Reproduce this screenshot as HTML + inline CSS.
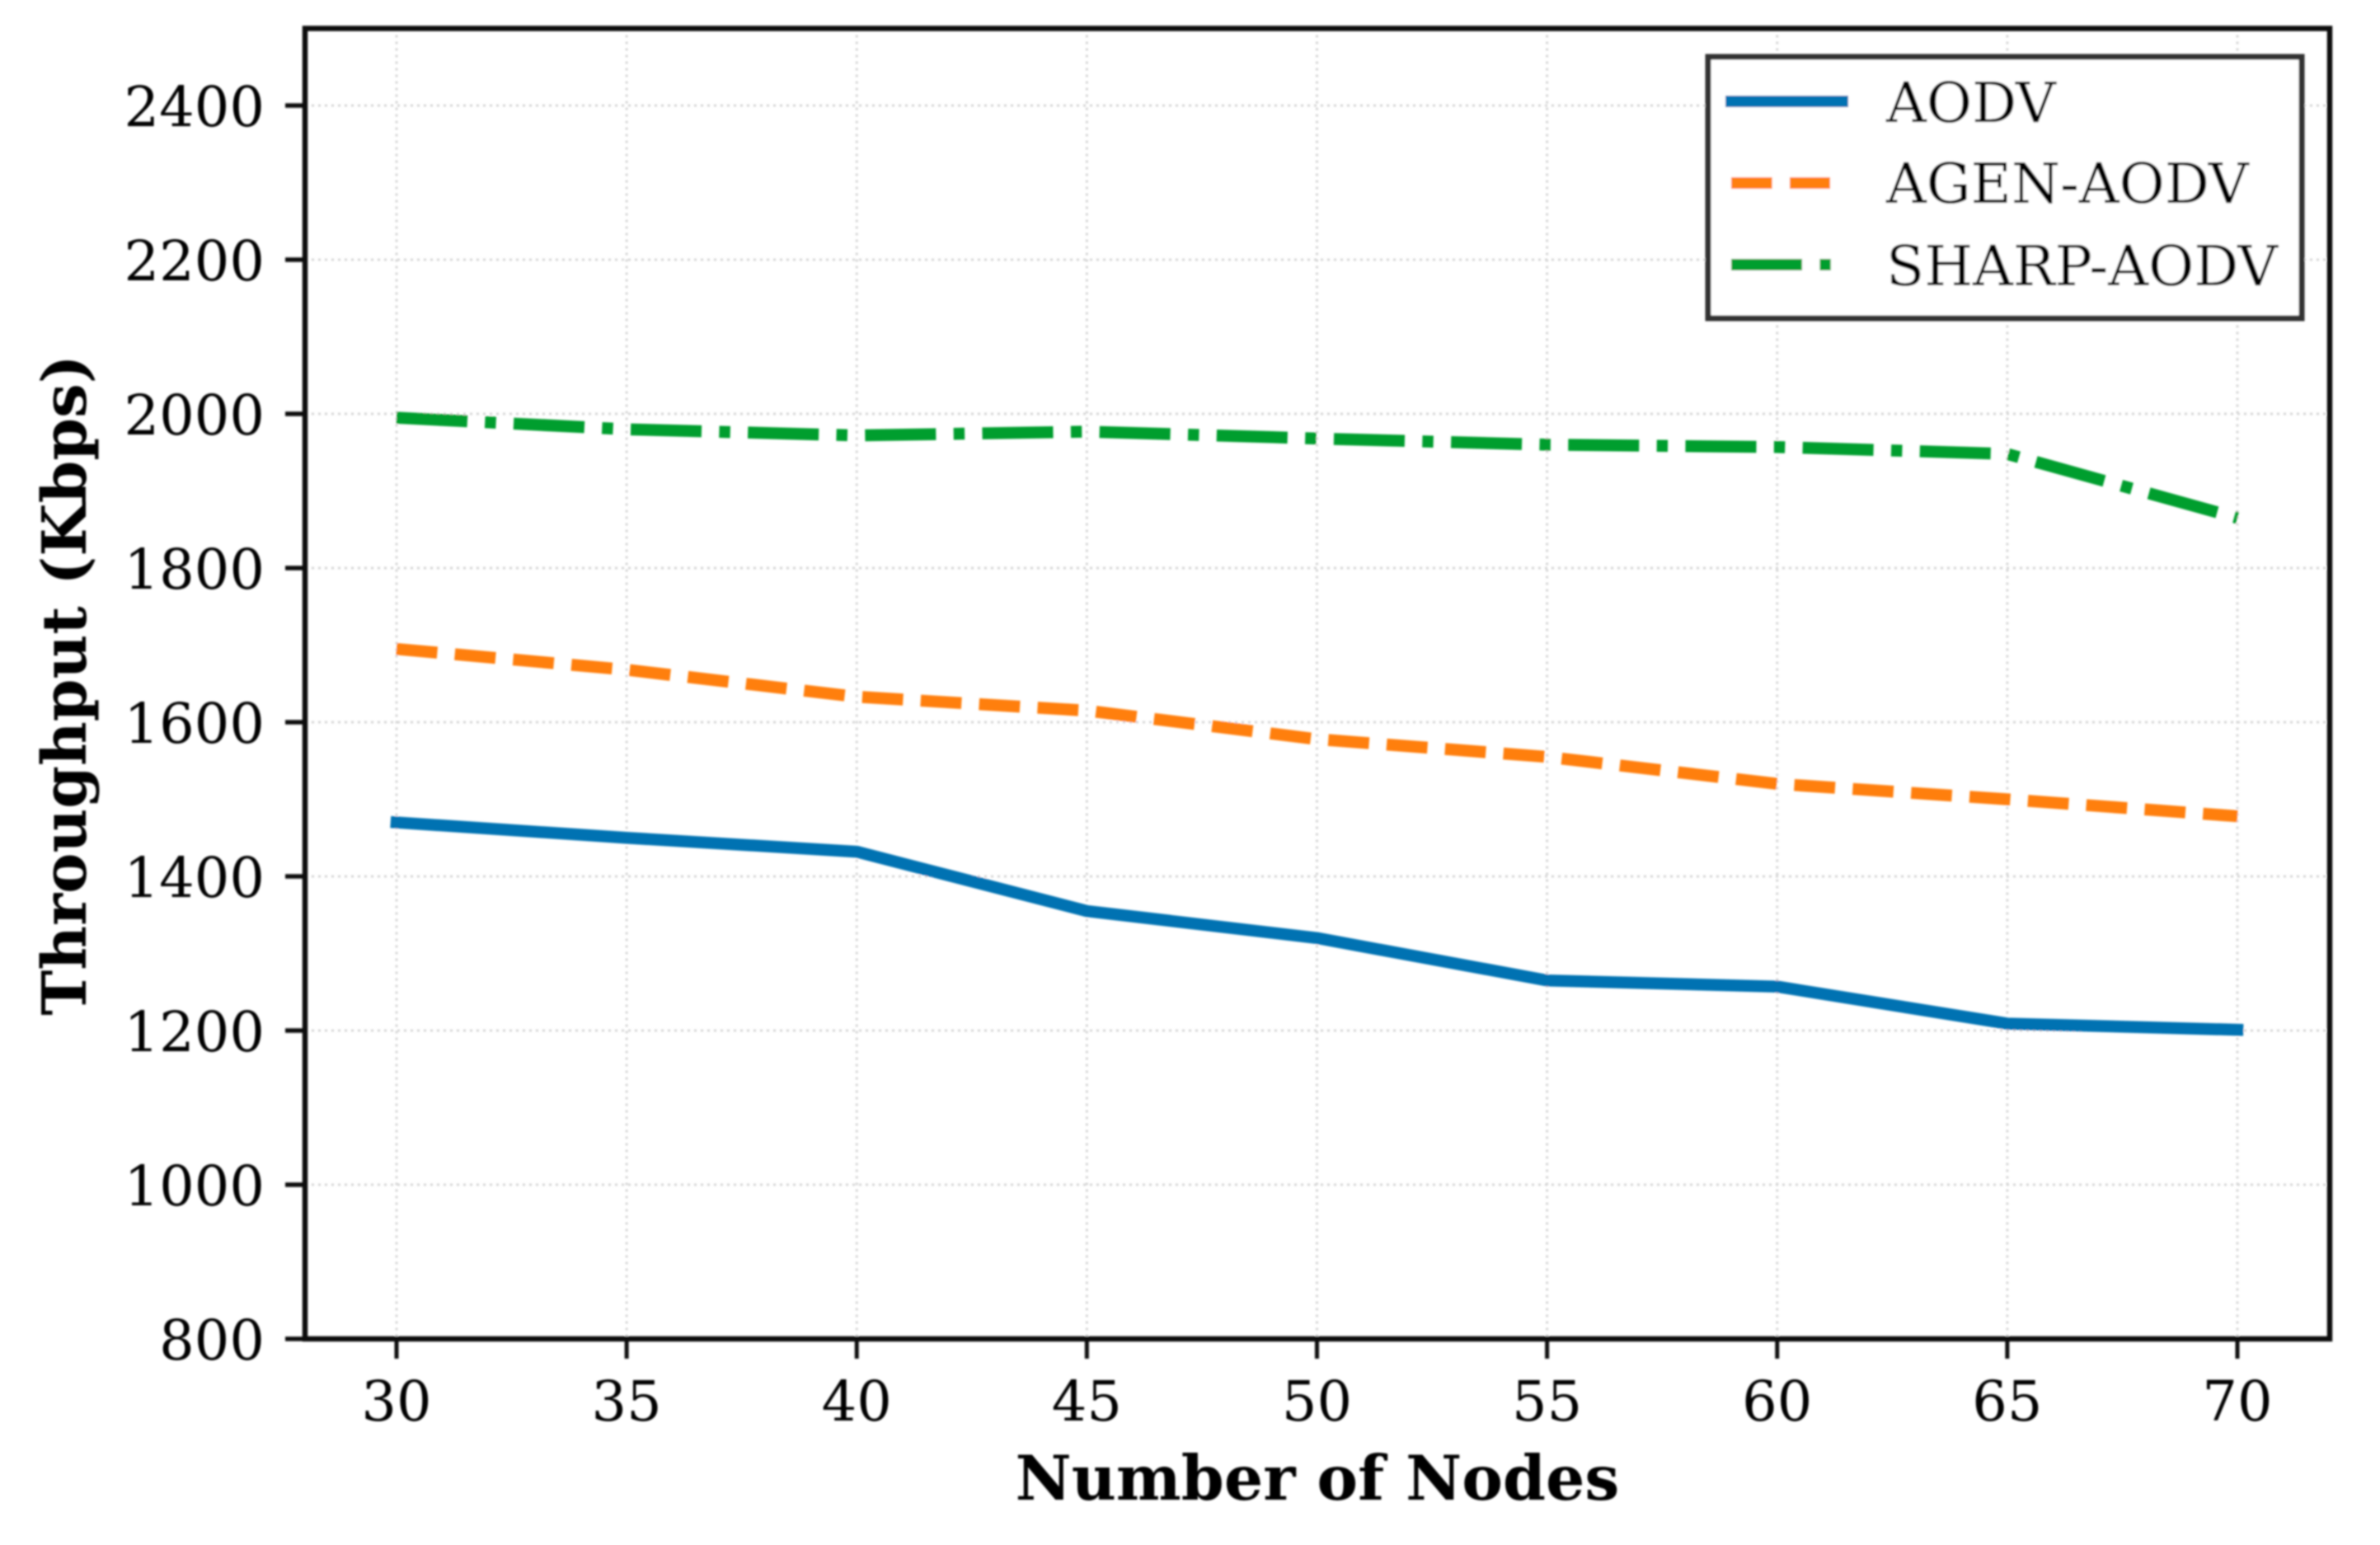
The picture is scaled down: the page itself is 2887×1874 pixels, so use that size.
<!DOCTYPE html>
<html lang="en">
<head>
<meta charset="utf-8">
<title>Throughput vs Number of Nodes</title>
<style>
  html, body { margin: 0; padding: 0; background: #fff; }
  body { width: 2887px; height: 1874px; overflow: hidden; }
  svg { display: block; }
  text { font-family: "DejaVu Serif", "Liberation Serif", serif; fill: #000; }
</style>
</head>
<body>
<svg id="chart" xmlns="http://www.w3.org/2000/svg" width="2887" height="1874" viewBox="0 0 2887 1874">
  <defs>
    <filter id="soft" x="-2%" y="-2%" width="104%" height="104%">
      <feGaussianBlur stdDeviation="1.1"/>
    </filter>
  </defs>
  <rect x="0" y="0" width="2887" height="1874" fill="#fff"/>
  <g filter="url(#soft)">
    <g id="grid"></g>
    <g id="series"></g>
    <g id="ticks"></g>
    <g id="tick-labels"></g>
    <rect x="370" y="34.5" width="2456" height="1589.5" fill="none" stroke="#111" stroke-width="6.5"/>
    <text x="1598" y="1819" font-size="74.5" font-weight="700" text-anchor="middle">Number of Nodes</text>
    <text x="0" y="0" font-size="74" font-weight="700" text-anchor="middle" transform="translate(104 831) rotate(-90)">Throughput (Kbps)</text>
    <g>
      <rect x="2072" y="69" width="740" height="317" fill="#fff" stroke="#333" stroke-width="7" transform="translate(2072 0) scale(0.973 1) translate(-2072 0)" vector-effect="non-scaling-stroke"/>
      <line x1="2093" y1="123" x2="2242" y2="123" stroke="#0072b2" stroke-width="14"/>
      <text x="2288" y="148" font-size="67.5">AODV</text>
      <line x1="2100" y1="222" x2="2220" y2="222" stroke="#ff7f0e" stroke-width="14" stroke-dasharray="49.6 21.4"/>
      <text x="2288" y="246" font-size="67.5">AGEN-AODV</text>
      <line x1="2100" y1="321" x2="2221" y2="321" stroke="#009e2f" stroke-width="14" stroke-dasharray="86 21.4 13.4 21.4"/>
      <text x="2288" y="346" font-size="67.5">SHARP-AODV</text>
    </g>
  </g>
</svg>
<script>
const nodeCounts = [30, 35, 40, 45, 50, 55, 60, 65, 70];
const aodvThroughput = [1470, 1450, 1432, 1355, 1320, 1265, 1257, 1209, 1201];
const agenThroughput = [1695, 1668, 1633, 1615, 1578, 1555, 1520, 1500, 1478];
const sharpThroughput = [1995, 1980, 1972, 1977, 1968, 1960, 1957, 1948, 1865];
const xTickLabels = [30, 35, 40, 45, 50, 55, 60, 65, 70];
const yTickLabels = [800, 1000, 1200, 1400, 1600, 1800, 2000, 2200, 2400];

const SVG_NS = 'http://www.w3.org/2000/svg';
const plot = { left: 370, right: 2826, top: 34.5, bottom: 1624 };

function xScale(n) {
  return 481 + (n - 30) * (2714 - 481) / 40;
}
function yScale(v) {
  return plot.bottom - (v - 800) * (plot.bottom - plot.top) / 1700;
}
function make(tag, attrs) {
  const el = document.createElementNS(SVG_NS, tag);
  Object.keys(attrs).forEach(function (k) { el.setAttribute(k, attrs[k]); });
  return el;
}

const gridGroup = document.getElementById('grid');
const ticksGroup = document.getElementById('ticks');
const labelsGroup = document.getElementById('tick-labels');
const seriesGroup = document.getElementById('series');

xTickLabels.forEach(function (t) {
  const gx = make('line', { x1: xScale(t), x2: xScale(t), y1: plot.top, y2: plot.bottom, stroke: '#d6d6d6', 'stroke-width': 3, 'stroke-dasharray': '3 5' });
  
  
  gridGroup.appendChild(gx);

  const tick = make('line', { x1: xScale(t), x2: xScale(t), y1: plot.bottom, y2: plot.bottom + 24, stroke: '#111', 'stroke-width': 5 });
  
  
  ticksGroup.appendChild(tick);

  const label = make('text', { x: xScale(t), y: 1723, 'font-size': 67, 'text-anchor': 'middle' });
  label.textContent = String(t);
  
  
  labelsGroup.appendChild(label);
});

yTickLabels.forEach(function (t) {
  const gy = make('line', { x1: plot.left, x2: plot.right, y1: yScale(t), y2: yScale(t), stroke: '#d6d6d6', 'stroke-width': 3, 'stroke-dasharray': '3 5' });
  
  
  gridGroup.appendChild(gy);

  const tick = make('line', { x1: plot.left - 24, x2: plot.left, y1: yScale(t), y2: yScale(t), stroke: '#111', 'stroke-width': 5.5 });
  
  
  ticksGroup.appendChild(tick);

  const label = make('text', { x: 321, y: yScale(t) + 25, 'font-size': 67, 'text-anchor': 'end' });
  label.textContent = String(t);
  
  
  labelsGroup.appendChild(label);
});

function drawSeries(values, color, dash, cap) {
  const pts = values.map(function (v, i) { return xScale(nodeCounts[i]) + ',' + yScale(v); }).join(' ');
  return make('polyline', { points: pts, fill: 'none', stroke: color, 'stroke-width': 14.5, 'stroke-dasharray': dash, 'stroke-linejoin': 'round', 'stroke-linecap': cap });
}

const aodvLine = drawSeries(aodvThroughput, '#0072b2', 'none', 'square');


seriesGroup.appendChild(aodvLine);

const agenLine = drawSeries(agenThroughput, '#ff7f0e', '49.6 21.4', 'butt');


seriesGroup.appendChild(agenLine);

const sharpLine = drawSeries(sharpThroughput, '#009e2f', '86 21.4 13.4 21.4', 'butt');


seriesGroup.appendChild(sharpLine);
</script>
</body>
</html>
